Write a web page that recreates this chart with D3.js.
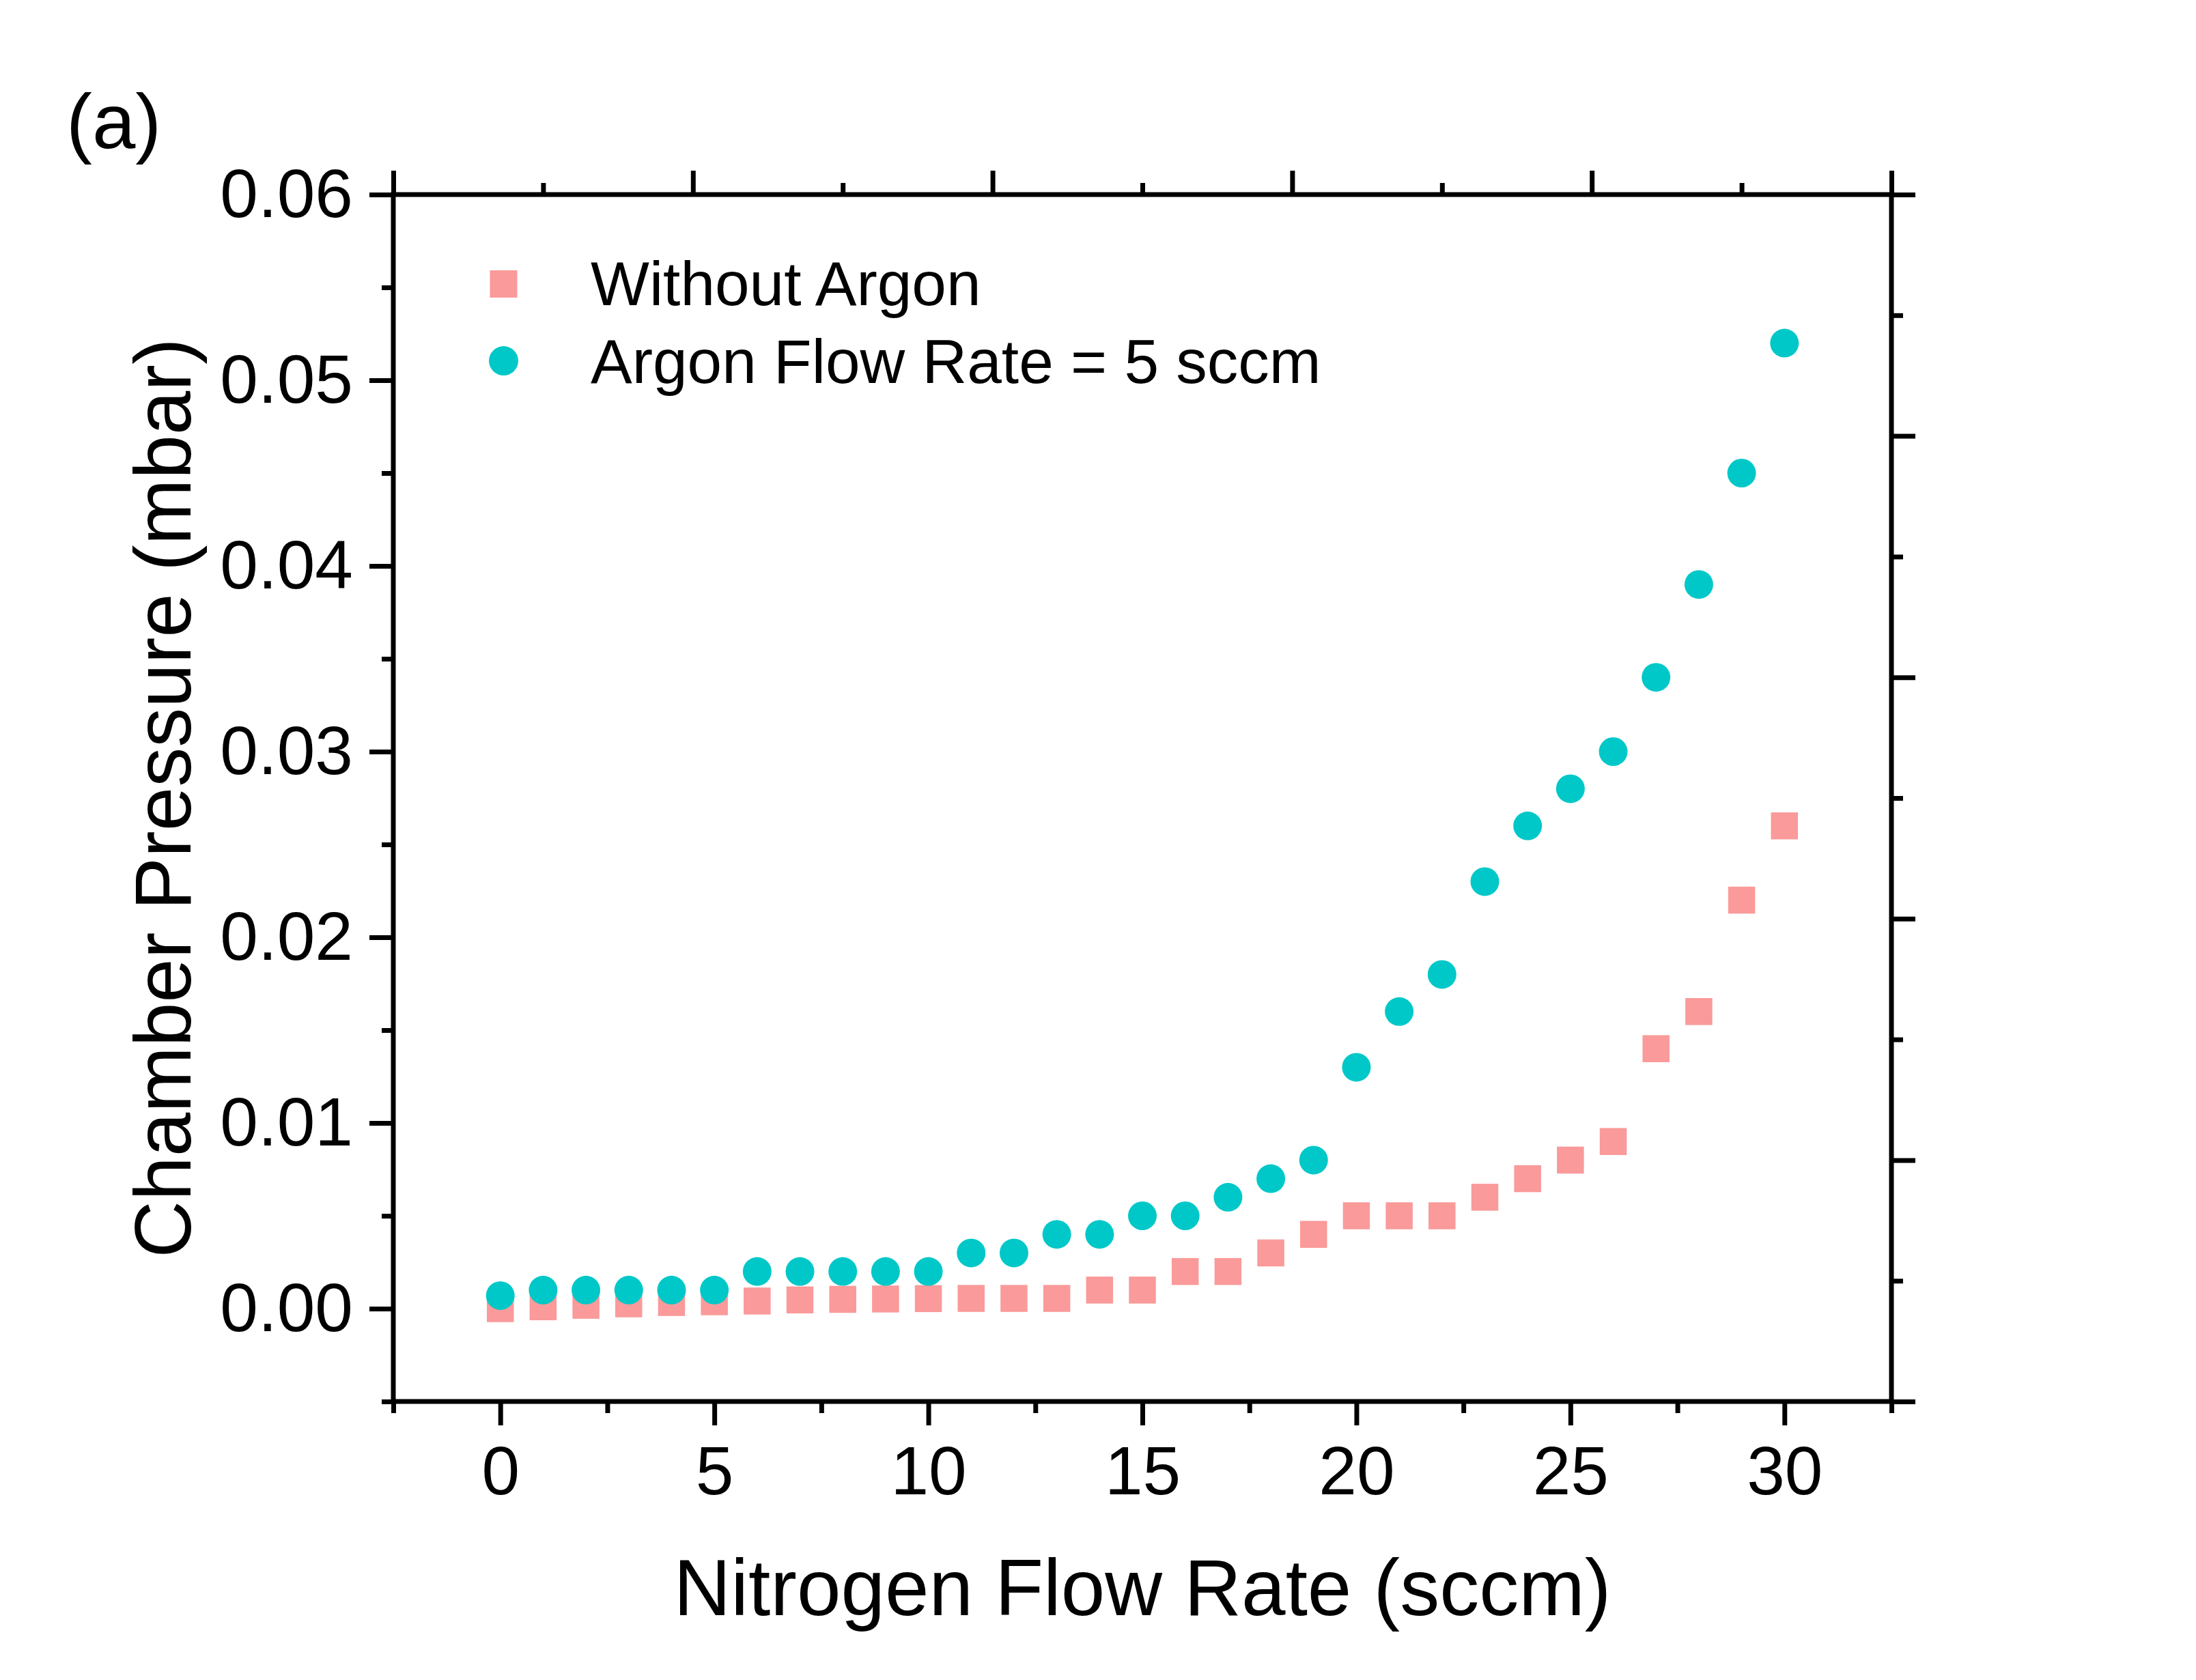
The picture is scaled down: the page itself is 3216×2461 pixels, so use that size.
<!DOCTYPE html>
<html>
<head>
<meta charset="utf-8">
<script src="https://cdn.jsdelivr.net/npm/d3@7"></script>
<style>
  body { margin: 0; background: #fff; }
  text { font-family: "Liberation Sans", Arial, sans-serif; fill: #000; }
</style>
</head>
<body>
<div id="canvas"></div>
<script>
const width = 3216;
const height = 2461;
const plotLeft = 576, plotRight = 2770, plotTop = 285, plotBottom = 2053;

// data
const flowRates = [0, 1, 2, 3, 4, 5, 6, 7, 8, 9, 10, 11, 12, 13, 14, 15, 16, 17, 18, 19, 20, 21, 22, 23, 24, 25, 26, 27, 28, 29, 30];
const withoutArgon = [0, 0.0001, 0.00018, 0.00026, 0.00033, 0.00037, 0.00041, 0.00047, 0.0005, 0.00052, 0.00054, 0.00055, 0.00055, 0.00055, 0.001, 0.001, 0.002, 0.002, 0.003, 0.004, 0.005, 0.005, 0.005, 0.006, 0.007, 0.008, 0.009, 0.014, 0.016, 0.022, 0.026];
const withArgon = [0.0007, 0.001, 0.001, 0.001, 0.001, 0.001, 0.002, 0.002, 0.002, 0.002, 0.002, 0.003, 0.003, 0.004, 0.004, 0.005, 0.005, 0.006, 0.007, 0.008, 0.013, 0.016, 0.018, 0.023, 0.026, 0.028, 0.030, 0.034, 0.039, 0.045, 0.052];
const seriesNames = ["Without Argon", "Argon Flow Rate = 5 sccm"];

const xMajor = [0, 5, 10, 15, 20, 25, 30];
const xMinor = [-2.5, 2.5, 7.5, 12.5, 17.5, 22.5, 27.5, 32.5];
const yMajor = [0, 0.01, 0.02, 0.03, 0.04, 0.05, 0.06];
const yMinor = [-0.005, 0.005, 0.015, 0.025, 0.035, 0.045, 0.055];
// top and right axes: 10 divisions over the range
const topMajor = [-2.5, 4.5, 11.5, 18.5, 25.5, 32.5];
const topMinor = [1, 8, 15, 22, 29];
const rightMajor = [-0.005, 0.008, 0.021, 0.034, 0.047, 0.06];
const rightMinor = [0.0015, 0.0145, 0.0275, 0.0405, 0.0535];

const pink = "#FA9A9A";
const cyan = "#00C8C8";
const lineW = 7;
const majorLen = 35, minorLen = 17;

const svg = d3.select("#canvas")
    .append("svg")
    .attr("width", width)
    .attr("height", height)
    .style("background-color", "white");

const x = d3.scaleLinear([-2.5, 32.5], [plotLeft, plotRight]);
const y = d3.scaleLinear([-0.005, 0.06], [plotBottom, plotTop]);

function styleAxis(g) {
    g.select(".domain").remove();
    g.selectAll(".tick line").attr("stroke", "#000").attr("stroke-width", lineW);
    g.selectAll(".tick text").style("font-size", "100px").attr("fill", "#000");
}

// bottom axis
svg.append("g")
    .attr("transform", `translate(0,${plotBottom})`)
    .call(d3.axisBottom(x).tickValues(xMajor).tickSize(majorLen).tickPadding(30).tickFormat(d3.format("d")))
    .call(styleAxis);
svg.append("g")
    .attr("transform", `translate(0,${plotBottom})`)
    .call(d3.axisBottom(x).tickValues(xMinor).tickSize(minorLen).tickFormat(""))
    .call(styleAxis);

// left axis
svg.append("g")
    .attr("transform", `translate(${plotLeft},0)`)
    .call(d3.axisLeft(y).tickValues(yMajor).tickSize(majorLen).tickPadding(24).tickFormat(d3.format(".2f")))
    .call(styleAxis);
svg.append("g")
    .attr("transform", `translate(${plotLeft},0)`)
    .call(d3.axisLeft(y).tickValues(yMinor).tickSize(minorLen).tickFormat(""))
    .call(styleAxis);

// top axis
svg.append("g")
    .attr("transform", `translate(0,${plotTop})`)
    .call(d3.axisTop(x).tickValues(topMajor).tickSize(majorLen).tickFormat(""))
    .call(styleAxis);
svg.append("g")
    .attr("transform", `translate(0,${plotTop})`)
    .call(d3.axisTop(x).tickValues(topMinor).tickSize(minorLen).tickFormat(""))
    .call(styleAxis);

// right axis
svg.append("g")
    .attr("transform", `translate(${plotRight},0)`)
    .call(d3.axisRight(y).tickValues(rightMajor).tickSize(majorLen).tickFormat(""))
    .call(styleAxis);
svg.append("g")
    .attr("transform", `translate(${plotRight},0)`)
    .call(d3.axisRight(y).tickValues(rightMinor).tickSize(minorLen).tickFormat(""))
    .call(styleAxis);

// frame
svg.append("rect")
    .attr("x", plotLeft)
    .attr("y", plotTop)
    .attr("width", plotRight - plotLeft)
    .attr("height", plotBottom - plotTop)
    .attr("fill", "none")
    .attr("stroke", "#000")
    .attr("stroke-width", lineW);

// squares first, circles drawn on top
const sq = 39.5;
svg.append("g")
    .selectAll("rect")
    .data(flowRates)
    .join("rect")
    .attr("x", (d, i) => x(d) - sq / 2)
    .attr("y", (d, i) => y(withoutArgon[i]) - sq / 2)
    .attr("width", sq)
    .attr("height", sq)
    .attr("fill", pink);

svg.append("g")
    .selectAll("circle")
    .data(flowRates)
    .join("circle")
    .attr("cx", d => x(d))
    .attr("cy", (d, i) => y(withArgon[i]))
    .attr("r", 21)
    .attr("fill", cyan);

// legend
const legend = svg.append("g");
legend.append("rect")
    .attr("x", 737.5 - 20).attr("y", 416 - 20)
    .attr("width", 40).attr("height", 40)
    .attr("fill", pink);
legend.append("circle")
    .attr("cx", 737.5).attr("cy", 528.6)
    .attr("r", 21.5)
    .attr("fill", cyan);
legend.selectAll("text")
    .data(seriesNames)
    .join("text")
    .attr("x", 865)
    .attr("y", (d, i) => 447 + i * 113.7)
    .style("font-size", "91px")
    .text(d => d);

// axis titles
svg.append("text")
    .attr("x", (plotLeft + plotRight) / 2)
    .attr("y", 2366)
    .attr("text-anchor", "middle")
    .style("font-size", "116px")
    .text("Nitrogen Flow Rate (sccm)");

svg.append("text")
    .attr("transform", `translate(279,${(plotTop + plotBottom) / 2}) rotate(-90)`)
    .attr("text-anchor", "middle")
    .style("font-size", "116px")
    .text("Chamber Pressure (mbar)");

// panel label
svg.append("text")
    .attr("x", 97)
    .attr("y", 217)
    .style("font-size", "114px")
    .text("(a)");
</script>
</body>
</html>
